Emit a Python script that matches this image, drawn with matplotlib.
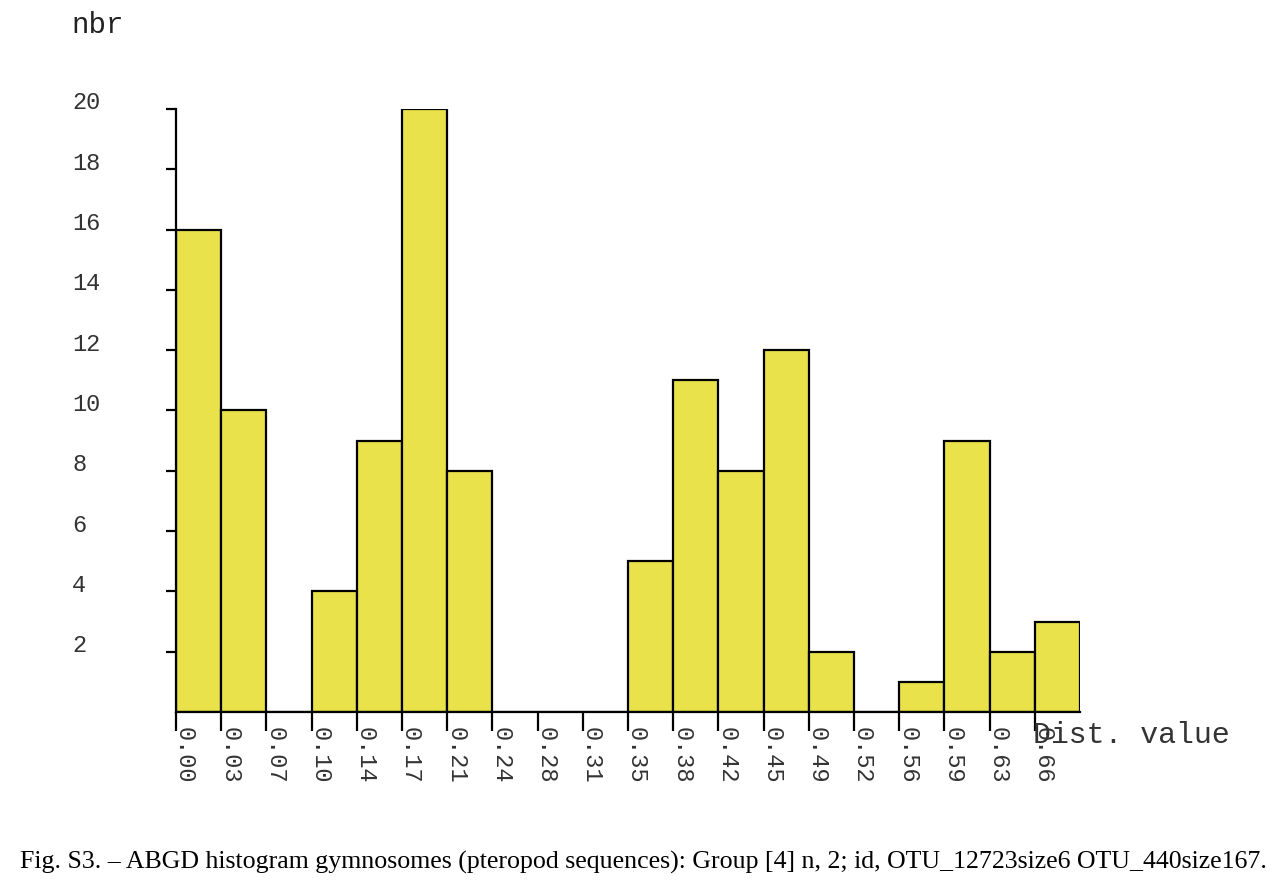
import matplotlib
matplotlib.use("Agg")
import matplotlib.pyplot as plt
import matplotlib.transforms as mtransforms

bin_labels = ["0.00", "0.03", "0.07", "0.10", "0.14", "0.17", "0.21", "0.24", "0.28", "0.31",
              "0.35", "0.38", "0.42", "0.45", "0.49", "0.52", "0.56", "0.59", "0.63", "0.66"]
counts = [16, 10, 0, 4, 9, 20, 8, 0, 0, 0, 5, 11, 8, 12, 2, 0, 1, 9, 2, 3]
y_ticks = [2, 4, 6, 8, 10, 12, 14, 16, 18, 20]
caption = ("Fig. S3. \u2013 ABGD histogram gymnosomes (pteropod sequences): Group [4] n, 2; id, "
           "OTU_12723size6 OTU_440size167.")

W, H = 1287, 890
fig = plt.figure(figsize=(W / 100, H / 100), dpi=100)
ax = fig.add_axes([176 / W, (H - 712) / H, 904 / W, 603 / H])

mono = "Liberation Mono"
bar_color = "#E9E24B"

x = list(range(len(counts)))
ax.bar(x, counts, width=1.0, align="edge", color=bar_color, edgecolor="black", linewidth=1.6)

ax.set_xlim(0, len(counts))
ax.set_ylim(0, 20)
for s in ["top", "right"]:
    ax.spines[s].set_visible(False)
for s in ["left", "bottom"]:
    ax.spines[s].set_linewidth(1.6)

ax.set_xticks(x)
ax.set_xticklabels([])
ax.tick_params(axis="x", direction="out", length=14, width=1.6)
ax.set_yticks(y_ticks)
ax.set_yticklabels([])
ax.tick_params(axis="y", direction="out", length=7, width=1.6)

# x tick labels, rotated
for xi, lab in zip(x, bin_labels):
    ax.text(xi, 0, lab, transform=mtransforms.offset_copy(ax.transData, fig=fig, x=-3, y=-15, units="dots"),
            rotation=270, ha="left", va="top", fontsize=17, family=mono, color="#333333")

# y tick labels, left aligned
ytrans = mtransforms.blended_transform_factory(fig.transFigure, ax.transData)
for yv in y_ticks:
    ax.text(72 / W, yv, str(yv), transform=mtransforms.offset_copy(ytrans, fig=fig, x=0, y=6, units="dots"),
            ha="left", va="center", fontsize=17, family=mono, color="#333333")

fig.text(71 / W, 1 - 25 / H, "nbr", ha="left", va="center", fontsize=21, family=mono, color="#222222")
fig.text(1033 / W, 1 - 735 / H, "Dist. value", ha="left", va="center", fontsize=21.5, family=mono,
         color="#333333")

fig.text(20 / W, 1 - 862 / H, caption, ha="left", va="center", fontsize=18.6,
         family="Liberation Serif", color="black")

fig.savefig("out.png", dpi=100, facecolor="white")
